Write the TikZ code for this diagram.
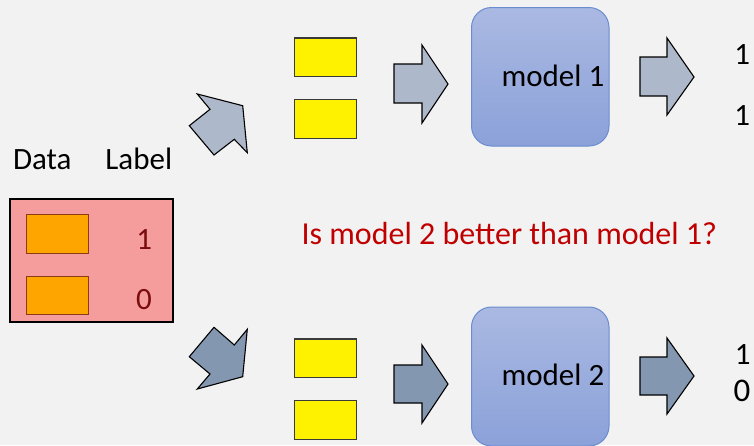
\documentclass[tikz,border=0pt]{standalone}
\usepackage{fontspec}
\setmainfont{Carlito}
\definecolor{bg}{HTML}{F2F2F2}
\definecolor{pinkbox}{HTML}{F59C9C}
\definecolor{orangebox}{HTML}{FFA500}
\definecolor{orangeedge}{HTML}{8B3A1A}
\definecolor{darkred}{HTML}{7A0C0C}
\definecolor{qred}{HTML}{C00000}
\definecolor{arrowlight}{HTML}{ADB9CA}
\definecolor{arrowdark}{HTML}{8497B0}
\definecolor{modeltop}{HTML}{AAB9E2}
\definecolor{modelbottom}{HTML}{8BA1D9}
\definecolor{modeledge}{HTML}{6A8CD0}
\definecolor{yedge}{HTML}{3A3A3A}
\tikzset{
  txt/.style={inner sep=0pt, anchor=base, font=\fontsize{31}{33}\selectfont},
  sample/.style={fill=orangebox, draw=orangeedge, line width=0.8pt},
  ybox/.style={fill=yellow, draw=yedge, line width=1.1pt},
  blockarrow/.style={draw=black, line width=1.1pt, line join=miter},
  modelbox/.style={top color=modeltop, bottom color=modelbottom, draw=modeledge, line width=1pt, rounded corners=20pt},
}
\begin{document}
\begin{tikzpicture}[x=1pt,y=-1pt]
\fill[bg] (0,0) rectangle (754,445);
\useasboundingbox (0,0) rectangle (754,445);
\clip (0,0) rectangle (754,445);

% data box
\node[txt] (data) at (42.3,169.3) {Data};
\node[txt] (label) at (138.8,169.3) {Label};
\draw[fill=pinkbox, draw=black, line width=1.3pt] (10,199) rectangle (173,322);
\draw[sample] (26,214) rectangle (88,253);
\draw[sample] (26,276) rectangle (88,314);
\node[txt, text=darkred] (l1) at (144.2,249) {1};
\node[txt, text=darkred] (l0) at (144,309.3) {0};

% diagonal arrows
\draw[blockarrow, fill=arrowlight] (189.3,125.7) -- (210,109.3) -- (197.3,94) -- (242.7,105.7) -- (247.3,152.7) -- (234.3,139.3) -- (214,155) -- cycle;
\draw[blockarrow, fill=arrowdark] (214,327.3) -- (234.3,345) -- (247.3,329.3) -- (242.7,376.7) -- (197.3,389) -- (210,374) -- (189.3,356.7) -- cycle;

% yellow samples
\draw[ybox] (294.3,38) rectangle (356.3,76.3);
\draw[ybox] (294.3,99.7) rectangle (356.3,138.3);
\draw[ybox] (294.3,339) rectangle (356.3,377.3);
\draw[ybox] (294.3,400.7) rectangle (356.3,439.3);

% middle arrows
\draw[blockarrow, fill=arrowlight] (394,64) -- (422,64) -- (422,45) -- (448,84) -- (422,123) -- (422,103) -- (394,103) -- cycle;
\draw[blockarrow, fill=arrowdark] (394,365) -- (422,365) -- (422,345) -- (448,384) -- (422,423) -- (422,403) -- (394,403) -- cycle;

% models
\draw[modelbox] (471.5,7.5) rectangle (609,146);
\draw[modelbox] (471.5,307) rectangle (609,446);
\node[txt] (m1) at (552.9,86) {model 1};
\node[txt] (m2) at (552.9,385.7) {model 2};

% right arrows
\draw[blockarrow, fill=arrowlight] (640,57) -- (667,57) -- (667,38) -- (694,77) -- (667,115) -- (667,96) -- (640,96) -- cycle;
\draw[blockarrow, fill=arrowdark] (640,357) -- (667,357) -- (667,338) -- (694,376) -- (667,414) -- (667,395) -- (640,395) -- cycle;

% outputs
\node[txt] (o1) at (742.3,64.3) {1};
\node[txt] (o2) at (742.3,125) {1};
\node[txt] (o3) at (742.8,364.3) {1};
\node[txt, font=\fontsize{33}{35}\selectfont] (o4) at (742,401.5) {0};

% question
\node[txt, text=qred, font=\fontsize{32}{34}\selectfont] (q) at (509.3,244) {Is model 2 better than model 1?};
\end{tikzpicture}
\end{document}
